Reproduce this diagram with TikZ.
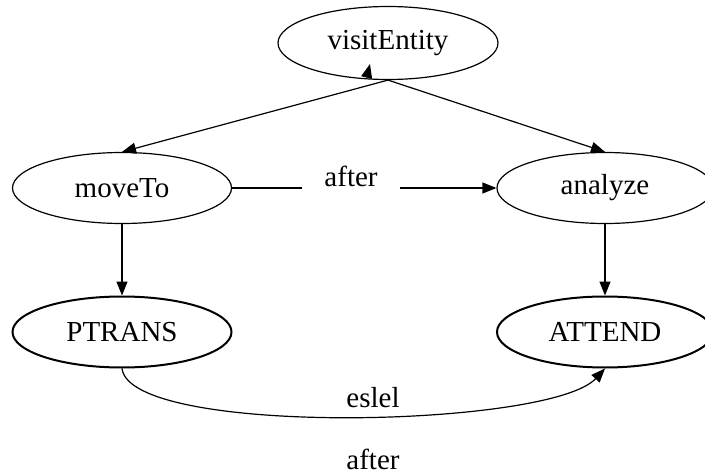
\documentclass[tikz,border=0pt]{standalone}
\usepackage{fontspec}
\setmainfont{Liberation Serif}
\usepackage{tikz}
\usetikzlibrary{shapes.geometric, positioning, arrows.meta}

\begin{document}
\begin{tikzpicture}[x=1pt, y=-1pt,
          act/.style={ellipse, draw, line width=1.2pt, minimum width=219pt,
                      minimum height=71pt, inner sep=0pt, font=\fontsize{29}{34}\selectfont},
          prim/.style={act, line width=2pt},
          lbl/.style={font=\fontsize{29}{34}\selectfont, inner sep=0pt},
          arr/.style={-{Triangle[length=14pt, width=11pt]}, line width=1.2pt}
        ]
        \useasboundingbox (0,0) rectangle (705,474);

        % Actions
        \node[act, minimum width=220pt, minimum height=73pt] (visit) at (388,43) {visitEntity};
        \node[act] (move) at (122,188) {moveTo};
        \node[act, minimum width=216pt] (analyze) at (605,188) {analyze};

        % Primitives
        \node[prim] (ptrans) at (122,332) {PTRANS};
        \node[prim, minimum width=216pt] (attend) at (605,332) {ATTEND};

        % Decomposition
        \draw[arr] (visit.south) -- (move.north);
        \draw[arr] (visit.south) -- (analyze.north);
        \coordinate (vtail) at (367,76);
        \coordinate (vtip) at (370,64);
        \draw[arr] (vtail) -- (vtip);
        \draw[arr] (move) -- (ptrans);
        \draw[arr] (analyze) -- (attend);

        % Ordering
        \draw[arr] (move) -- node[lbl, pos=0.45, fill=white, anchor=base, yshift=2pt,
              inner xsep=22pt, inner ysep=5pt] (after1) {after} (analyze);
        \draw[arr] (ptrans.south) .. controls (130,437) and (550,428) .. (attend.south);
        \node[lbl, anchor=base] (eslel) at (373,407) {eslel};
        \node[lbl, anchor=base] (after2) at (373,469) {after};
      \end{tikzpicture}
\end{document}
